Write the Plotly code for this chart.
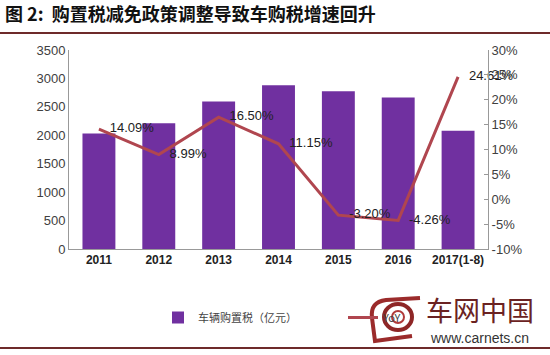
import plotly.graph_objects as go

categories = ["2011", "2012", "2013", "2014", "2015", "2016", "2017(1-8)"]
tax_values = [2030, 2210, 2595, 2880, 2775, 2665, 2080]
growth = [0.1409, 0.0899, 0.1650, 0.1115, -0.0320, -0.0426, 0.2461]
growth_labels = ["14.09%", "8.99%", "16.50%", "11.15%", "-3.20%", "-4.26%", "24.61%"]
y_ticks = [0, 500, 1000, 1500, 2000, 2500, 3000, 3500]
y2_ticks = [-0.10, -0.05, 0, 0.05, 0.10, 0.15, 0.20, 0.25, 0.30]
y2_ticktext = ["-10%", "-5%", "0%", "5%", "10%", "15%", "20%", "25%", "30%"]

W, H = 550, 355
L, R, T, B = 69, 62, 50, 106
pw, ph = W - L - R, H - T - B

def px_x(x):
    return (x - L) / pw

def px_y(y):
    return (H - B - y) / ph

NB = "\u00a0\u00a0\u00a0"

fig = go.Figure()
fig.add_trace(go.Bar(
    x=categories, y=tax_values, name="车辆购置税（亿元）",
    marker=dict(color="#7030A0", line=dict(width=0)),
))
fig.add_trace(go.Scatter(
    x=categories, y=growth, name="YoY", yaxis="y2",
    mode="lines+text", text=[NB + t for t in growth_labels], textposition="middle right",
    textfont=dict(family="Liberation Sans", size=13, color="#222222"),
    line=dict(color="#B0464F", width=3), cliponaxis=False,
))

# approximate watermark logo (covers part of the legend, as in the source)
logo_shapes = [
    dict(type="rect", xref="paper", yref="paper", x0=px_x(372), x1=px_x(420),
         y0=px_y(296), y1=px_y(342), fillcolor="white", line=dict(width=0), layer="above"),
    dict(type="path", xref="paper", yref="paper",
         path=(f"M {px_x(420)},{px_y(298)} L {px_x(386)},{px_y(300)} "
               f"Q {px_x(370)},{px_y(302)} {px_x(372)},{px_y(318)} "
               f"L {px_x(375)},{px_y(341)} L {px_x(412)},{px_y(336)}"),
         line=dict(color="#9B2B2B", width=4), layer="above"),
    dict(type="circle", xref="paper", yref="paper", x0=px_x(384), x1=px_x(412),
         y0=px_y(304), y1=px_y(330), line=dict(color="#8E2626", width=4), layer="above"),
    dict(type="circle", xref="paper", yref="paper", x0=px_x(392), x1=px_x(404),
         y0=px_y(311), y1=px_y(323), line=dict(color="#B03A3A", width=2), layer="above"),
]

fig.update_layout(
    width=W, height=H,
    margin=dict(l=L, r=R, t=T, b=B, autoexpand=False),
    paper_bgcolor="white", plot_bgcolor="white",
    bargap=0.45,
    font=dict(family="Liberation Sans", size=12, color="#404040"),
    title=dict(text="<b>图 2:\u00a0\u00a0购置税减免政策调整导致车购税增速回升</b>",
               x=5 / W, xanchor="left", y=1 - 15 / H, yanchor="middle",
               font=dict(family="Noto Sans CJK SC", size=18, color="#111111")),
    xaxis=dict(showline=True, linecolor="#999999", linewidth=1, ticks="",
               tickfont=dict(size=12, color="#222222", weight="bold")),
    yaxis=dict(range=[0, 3500], tickvals=y_ticks, showgrid=False,
               showline=True, linecolor="#999999", linewidth=1, ticks="",
               zeroline=False, tickfont=dict(size=13, color="#404040")),
    yaxis2=dict(range=[-0.10, 0.30], tickvals=y2_ticks, ticktext=y2_ticktext,
                overlaying="y", side="right", showgrid=False, zeroline=False,
                showline=True, linecolor="#999999", linewidth=1,
                ticks="inside", ticklen=4, tickcolor="#999999",
                tickfont=dict(size=13, color="#404040")),
    legend=dict(orientation="h", x=px_x(158), y=px_y(303), xanchor="left", yanchor="top",
                entrywidth=140, entrywidthmode="pixels",
                font=dict(family="Noto Sans CJK SC", size=11, color="#444444"),
                bgcolor="rgba(0,0,0,0)"),
    shapes=[
        dict(type="line", xref="paper", yref="paper", x0=px_x(0), x1=px_x(W),
             y0=px_y(33), y1=px_y(33), line=dict(color="#6E2A2A", width=2)),
        dict(type="line", xref="paper", yref="paper", x0=px_x(0), x1=px_x(W),
             y0=px_y(348), y1=px_y(348), line=dict(color="#6E2A2A", width=2)),
    ] + logo_shapes,
    annotations=[
        dict(text="车网中国", xref="paper", yref="paper", x=px_x(480), y=px_y(309),
             xanchor="center", yanchor="middle",
             showarrow=False, font=dict(family="Noto Sans CJK SC", size=27, color="#6B2222")),
        dict(text="www.carnets.cn", xref="paper", yref="paper", x=px_x(479), y=px_y(338),
             xanchor="center", yanchor="middle",
             showarrow=False, font=dict(family="Liberation Sans", size=14, color="#333333")),
    ],
)

fig.write_html("out.html", config={"displayModeBar": False},
               post_script="document.body.style.margin='0px';")
